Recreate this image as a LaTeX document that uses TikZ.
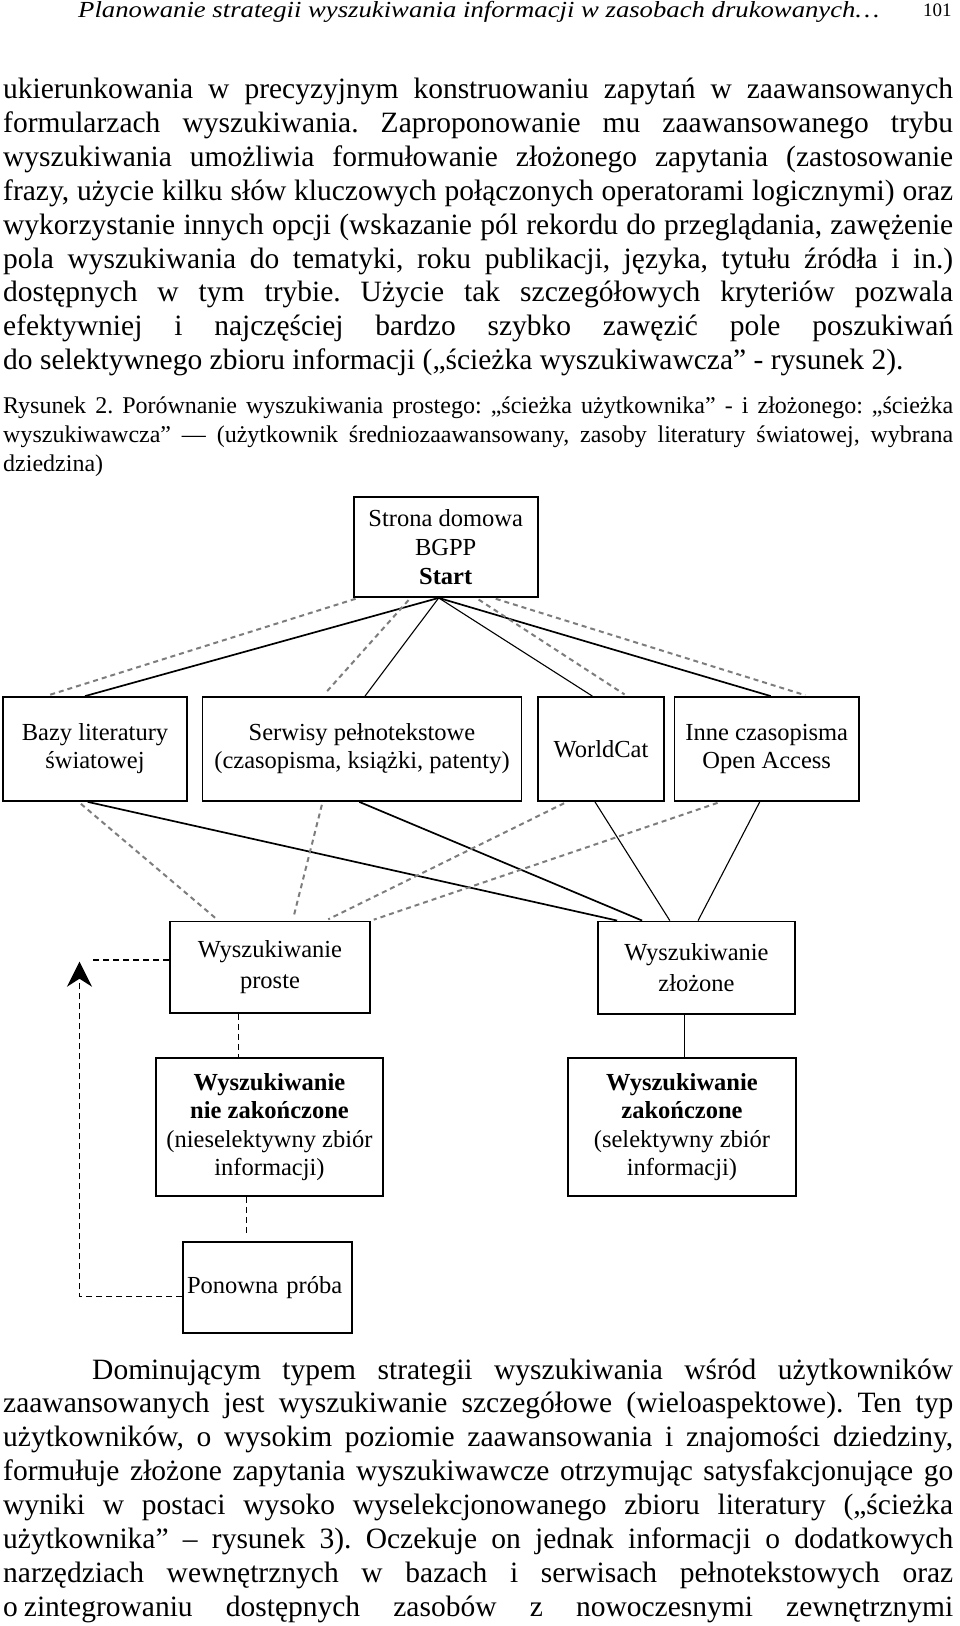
\documentclass[tikz,border=0pt]{standalone}
\usepackage{fontspec}
\usepackage{graphicx}
\setmainfont{Liberation Serif}
\usetikzlibrary{arrows.meta}
\definecolor{dgray}{RGB}{125,125,125}
\newcommand\jline[1]{\makebox[950pt][s]{#1}}
\newcommand\jlineb[1]{\makebox[861pt][s]{#1}}
\frenchspacing
\begin{document}
\begin{tikzpicture}[x=1pt,y=-1pt,
  body/.style={anchor=base west, inner sep=0pt, font=\fontsize{29.5}{34}\selectfont},
  capt/.style={anchor=base west, inner sep=0pt, font=\fontsize{24}{29}\selectfont},
  box/.style={draw, line width=1.8pt, inner sep=0pt, align=center, font=\fontsize{24.5}{29}\selectfont},
  rowfour/.style={box, font=\fontsize{24.5}{28.5}\selectfont},
  solidthick/.style={line width=1.7pt},
  solidthin/.style={line width=1.1pt},
  graydash/.style={draw=dgray, line width=2pt, dash pattern=on 5pt off 4pt, shorten <=3pt, shorten >=3pt},
  blackdash/.style={line width=1.3pt, dash pattern=on 6pt off 4pt},
]
\useasboundingbox[fill=white] (0,0) rectangle (960,1626);

% header
\node[anchor=base west, inner sep=0pt, font=\fontsize{23}{26}\selectfont\itshape] (hdr) at (78,17.5)
  {\resizebox{801pt}{\height}{Planowanie strategii wyszukiwania informacji w zasobach drukowanych…}};
\node[anchor=base west, inner sep=0pt, font=\fontsize{19}{21}\selectfont] (pnum) at (923,16) {101};

% top paragraph
\node[body] (p1) at (3,98.5) {\jline{ukierunkowania w precyzyjnym konstruowaniu zapytań w zaawansowanych}};
\node[body] (p2) at (3,132.4) {\jline{formularzach wyszukiwania. Zaproponowanie mu zaawansowanego trybu}};
\node[body] (p3) at (3,166.3) {\jline{wyszukiwania umożliwia formułowanie złożonego zapytania (zastosowanie}};
\node[body] (p4) at (3,200.2) {\jline{frazy, użycie kilku słów kluczowych połączonych operatorami logicznymi) oraz}};
\node[body] (p5) at (3,234.1) {\jline{wykorzystanie innych opcji (wskazanie pól rekordu do przeglądania, zawężenie}};
\node[body] (p6) at (3,268.0) {\jline{pola wyszukiwania do tematyki, roku publikacji, języka, tytułu źródła i in.)}};
\node[body] (p7) at (3,301.9) {\jline{dostępnych w tym trybie. Użycie tak szczegółowych kryteriów pozwala}};
\node[body] (p8) at (3,335.8) {\jline{efektywniej i najczęściej bardzo szybko zawęzić pole poszukiwań}};
\node[body] (p9) at (3,369.7) {do selektywnego zbioru informacji („ścieżka wyszukiwawcza” - rysunek 2).};

% caption
\node[capt] (c1) at (3,413) {\jline{Rysunek 2. Porównanie wyszukiwania prostego: „ścieżka użytkownika” - i złożonego: „ścieżka}};
\node[capt] (c2) at (3,442) {\jline{wyszukiwawcza” — (użytkownik średniozaawansowany, zasoby literatury światowej, wybrana}};
\node[capt] (c3) at (3,471) {dziedzina)};

% diagram boxes
\node[box, minimum width=183.8pt, minimum height=100.4pt] (start) at (445.7,546.8)
  {Strona domowa\\BGPP\\\textbf{Start}};
\node[box, minimum width=184pt, minimum height=104pt, font=\fontsize{24.5}{28}\selectfont] (bazy) at (95,749)
  {Bazy literatury\\światowej};
\node[box, minimum width=319pt, minimum height=104pt, font=\fontsize{24.5}{28}\selectfont] (serw) at (362,749)
  {Serwisy pełnotekstowe\\(czasopisma, książki, patenty)};
\node[box, minimum width=126pt, minimum height=104pt] (world) at (601,749) {WorldCat};
\node[box, minimum width=184.5pt, minimum height=104pt, font=\fontsize{24.5}{28}\selectfont] (inne) at (766.75,749)
  {Inne czasopisma\\Open Access};
\node[box, minimum width=200pt, minimum height=91.5pt, font=\fontsize{24.5}{31}\selectfont] (proste) at (270,967.3)
  {Wyszukiwanie\\proste};
\node[box, minimum width=197pt, minimum height=92.5pt, font=\fontsize{24.5}{31}\selectfont] (zloz) at (696.5,967.7)
  {Wyszukiwanie\\złożone};
\node[rowfour, minimum width=227pt, minimum height=138pt] (niezak) at (269.5,1127)
  {\textbf{Wyszukiwanie}\\\textbf{nie zakończone}\\(nieselektywny zbiór\\informacji)};
\node[rowfour, minimum width=228pt, minimum height=138pt] (zak) at (682,1127)
  {\textbf{Wyszukiwanie}\\\textbf{zakończone}\\(selektywny zbiór\\informacji)};
\node[box, minimum width=169pt, minimum height=91pt, text width=161pt, align=left] (ponow) at (267.5,1287.5)
  {Ponowna próba};

% connectors from start
\coordinate (sconv) at ([xshift=-7pt]start.south);
\draw[solidthick] (sconv) -- ([xshift=-10pt]bazy.north);
\draw[solidthin] (sconv) -- ([xshift=3pt]serw.north);
\draw[solidthin] (sconv) -- ([xshift=-8.6pt]world.north);
\draw[solidthick] (sconv) -- ([xshift=4pt]inne.north);
\draw[graydash] ([xshift=5.5pt]start.south west) -- ([xshift=43.6pt]bazy.north west);
\draw[graydash] ([xshift=57.6pt]start.south west) -- ([xshift=121.1pt]serw.north west);
\draw[graydash] ([xshift=123.2pt]start.south west) -- ([xshift=90pt]world.north west);
\draw[graydash] ([xshift=140pt]start.south west) -- ([xshift=134.5pt]inne.north west);

% row 2 -> row 3
\draw[solidthick] ([xshift=-7.2pt]bazy.south) -- ([xshift=20pt]zloz.north west);
\draw[solidthick] ([xshift=-2.7pt]serw.south) -- ([xshift=45pt]zloz.north west);
\draw[solidthin] ([xshift=-6pt]world.south) -- ([xshift=72.7pt]zloz.north west);
\draw[solidthin] ([xshift=-7pt]inne.south) -- ([xshift=101pt]zloz.north west);
\draw[graydash] ([xshift=76.5pt]bazy.south west) -- ([xshift=49.4pt]proste.north west);
\draw[graydash] ([xshift=121pt]serw.south west) -- ([xshift=123.5pt]proste.north west);
\draw[graydash] ([xshift=29.7pt]world.south west) -- ([xshift=156.4pt]proste.north west);
\draw[graydash] ([xshift=46.8pt]inne.south west) -- (proste.north east);

% row 3 -> row 4
\draw[blackdash] ([xshift=-31.4pt]proste.south) -- ([xshift=-31.4pt]proste.south |- niezak.north);
\draw[solidthin] ([xshift=-12pt]zloz.south) -- ([xshift=-12pt]zloz.south |- zak.north);
\draw[blackdash, shorten >=6pt] ([xshift=-22.7pt]niezak.south) -- ([xshift=-22.7pt]niezak.south |- ponow.north);

% return loop
\coordinate (tip) at (79.5,961.7);
\coordinate (hend) at (92.7,960);
\draw[blackdash, -{Stealth[length=25pt, width=25pt, inset=8pt]}] ([yshift=-9.2pt]ponow.west) -| (tip);
\draw[blackdash] ([yshift=7.3pt]proste.west) -- (hend);

% bottom paragraph
\node[body] (b1) at (92,1379) {\jlineb{Dominującym typem strategii wyszukiwania wśród użytkowników}};
\node[body] (b2) at (3,1412.9) {\jline{zaawansowanych jest wyszukiwanie szczegółowe (wieloaspektowe). Ten typ}};
\node[body] (b3) at (3,1446.8) {\jline{użytkowników, o wysokim poziomie zaawansowania i znajomości dziedziny,}};
\node[body] (b4) at (3,1480.7) {\jline{formułuje złożone zapytania wyszukiwawcze otrzymując satysfakcjonujące go}};
\node[body] (b5) at (3,1514.6) {\jline{wyniki w postaci wysoko wyselekcjonowanego zbioru literatury („ścieżka}};
\node[body] (b6) at (3,1548.5) {\jline{użytkownika” – rysunek 3). Oczekuje on jednak informacji o dodatkowych}};
\node[body] (b7) at (3,1582.4) {\jline{narzędziach wewnętrznych w bazach i serwisach pełnotekstowych oraz}};
\node[body] (b8) at (3,1616.3) {\jline{o\hspace{6pt}zintegrowaniu dostępnych zasobów z nowoczesnymi zewnętrznymi}};
\end{tikzpicture}
\end{document}
